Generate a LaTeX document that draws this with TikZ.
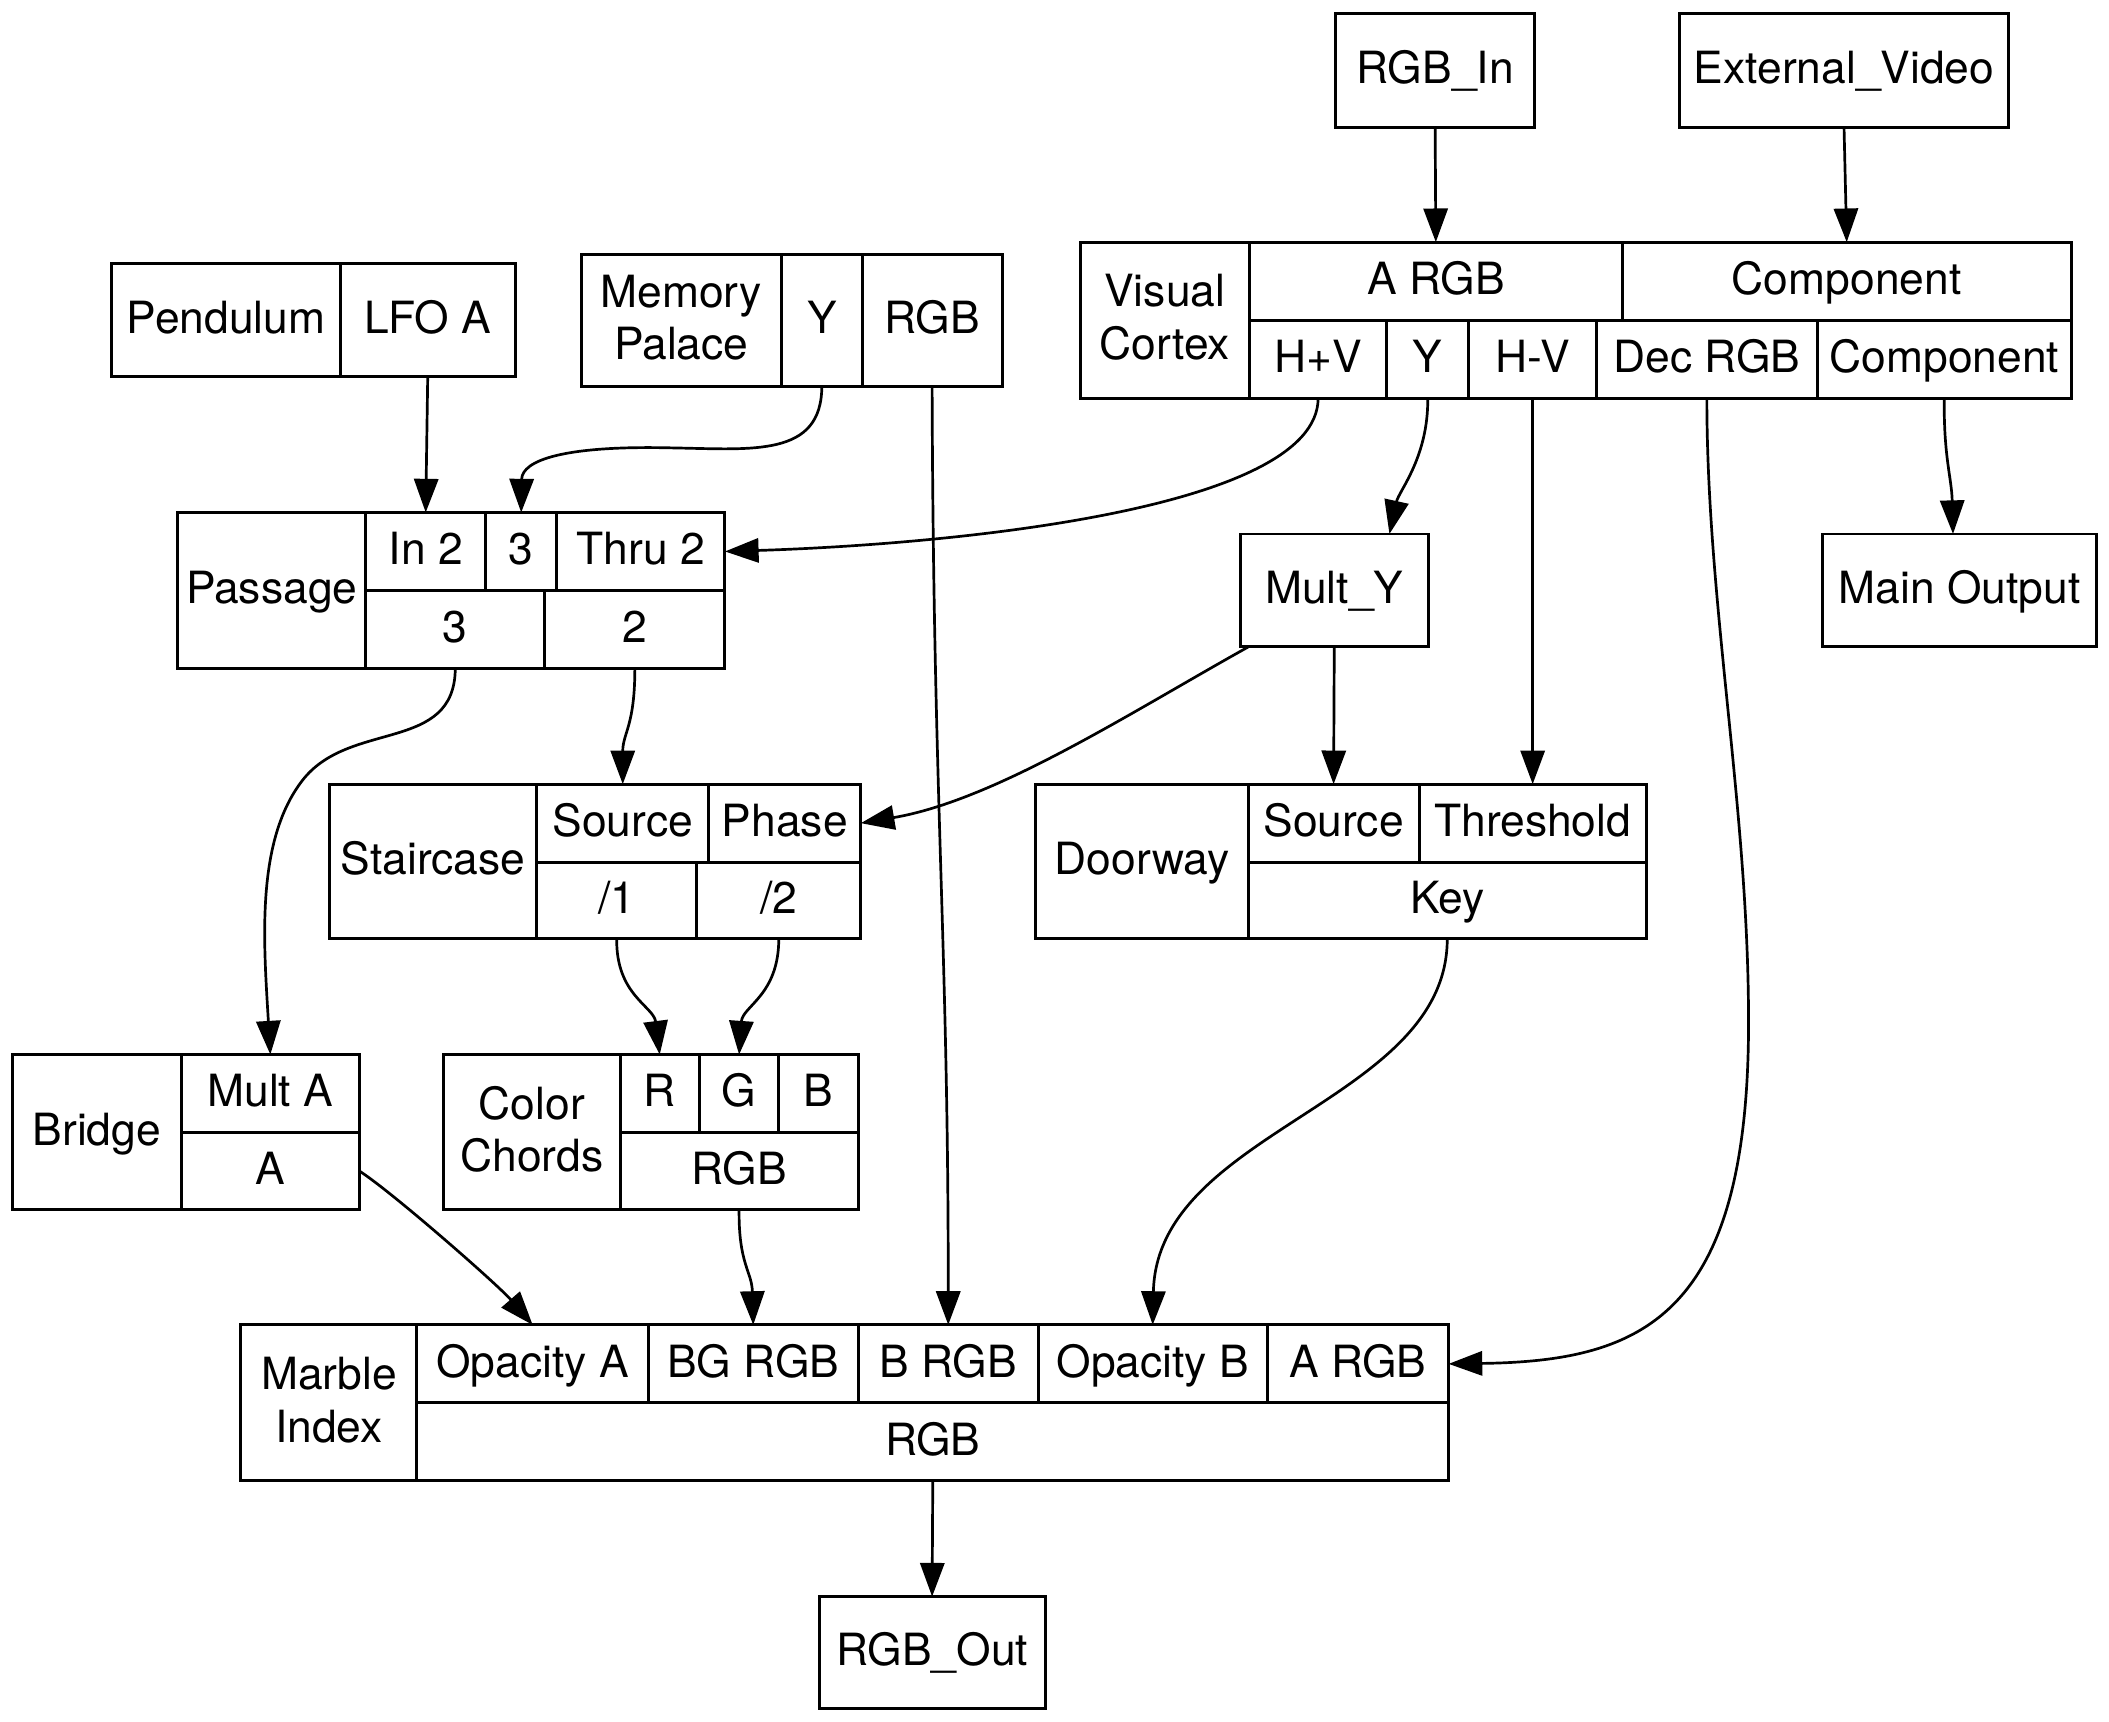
\documentclass[tikz,border=0pt]{standalone}
\usepackage{fontspec}
\setmainfont{TeX Gyre Heros}
\usetikzlibrary{arrows.meta,calc}
\tikzset{
  cellbox/.style={draw, line width=1.1pt, inner sep=0pt, outer sep=0pt,
    font=\fontsize{16.5}{19.5}\selectfont},
  cellone/.style={text height=9.8pt, text depth=0pt},
  celltwo/.style={},
  celltext/.style={inner sep=0pt, outer sep=0pt, align=center, yshift=1pt,
    font=\fontsize{16.5}{19.5}\selectfont},
  conn/.style={-{Triangle[length=12.5pt,width=9pt]}, line width=1pt}
}
\makeatletter
\def\rcell{\@ifnextchar[{\rcell@ii}{\rcell@i}}
\def\rcell@i#1#2#3#4#5#6{\node[cellbox,cellone,minimum width={(#4-(#2))*0.5pt},minimum height={(#5-(#3))*0.5pt}] (#1) at ({(#2+#4)/2},{(#3+#5)/2}) {#6};}
\def\rcell@ii[#1]#2#3#4#5#6#7{\node[cellbox,minimum width={(#5-(#3))*0.5pt},minimum height={(#6-(#4))*0.5pt}] (#2) at ({(#3+#5)/2},{(#4+#6)/2}) {};
  \node[celltext] (#2-t) at (#2) {#7};}
\makeatother
\begin{document}
\begin{tikzpicture}[x=0.5pt,y=-0.5pt]
\useasboundingbox (0,0) rectangle (1568,1280);
% RGB_In / External_Video
\rcell{rgbin}{993}{10}{1141}{95}{RGB\_In}
\rcell{extvid}{1249}{10}{1493}{95}{External\_Video}
% Visual Cortex
\rcell[celltwo]{vc}{803}{180}{929}{296}{Visual\\Cortex}
\rcell{vcargb}{929}{180}{1206}{238}{A RGB}
\rcell{vccomp}{1206}{180}{1540}{238}{Component}
\rcell{vchv}{929}{238}{1031}{296}{H+V}
\rcell{vcy}{1031}{238}{1092}{296}{Y}
\rcell{vchmv}{1092}{238}{1187}{296}{H-V}
\rcell{vcdec}{1187}{238}{1351}{296}{Dec RGB}
\rcell{vccompout}{1351}{238}{1540}{296}{Component}
% Pendulum
\rcell{pend}{83}{196}{253}{280}{Pendulum}
\rcell{pendlfo}{253}{196}{383}{280}{LFO A}
% Memory Palace
\rcell[celltwo]{mem}{432}{189}{581}{287}{Memory\\Palace}
\rcell{memy}{581}{189}{641}{287}{Y}
\rcell{memrgb}{641}{189}{745}{287}{RGB}
% Passage
\rcell{pass}{132}{381}{272}{497}{Passage}
\rcell{passin}{272}{381}{361}{439}{In 2}
\rcell{passthree}{361}{381}{414}{439}{3}
\rcell{passthru}{414}{381}{539}{439}{Thru 2}
\rcell{passoutthree}{272}{439}{405}{497}{3}
\rcell{passouttwo}{405}{439}{539}{497}{2}
% Mult_Y / Main Output
\rcell{multy}{922}{397}{1062}{481}{Mult\_Y}
\rcell{mainout}{1355}{397}{1559}{481}{Main Output}
% Staircase
\rcell{stair}{245}{583}{399}{698}{Staircase}
\rcell{stairsrc}{399}{583}{527}{641}{Source}
\rcell{stairph}{527}{583}{640}{641}{Phase}
\rcell{stairone}{399}{641}{518}{698}{/1}
\rcell{stairtwo}{518}{641}{640}{698}{/2}
% Doorway
\rcell{door}{770}{583}{928}{698}{Doorway}
\rcell{doorsrc}{928}{583}{1055}{641}{Source}
\rcell{doorth}{1055}{583}{1224}{641}{Threshold}
\rcell{doorkey}{928}{641}{1224}{698}{Key}
% Bridge
\rcell{bridge}{9}{784}{135}{899}{Bridge}
\rcell{bridgemult}{135}{784}{267}{842}{Mult A}
\rcell{bridgea}{135}{842}{267}{899}{A}
% Color Chords
\rcell[celltwo]{cc}{330}{784}{461}{899}{Color\\Chords}
\rcell{ccr}{461}{784}{520}{842}{R}
\rcell{ccg}{520}{784}{579}{842}{G}
\rcell{ccb}{579}{784}{638}{842}{B}
\rcell{ccrgb}{461}{842}{638}{899}{RGB}
% Marble Index
\rcell[celltwo]{mi}{179}{985}{310}{1101}{Marble\\Index}
\rcell{miopa}{310}{985}{482}{1043}{Opacity A}
\rcell{mibg}{482}{985}{638}{1043}{BG RGB}
\rcell{mib}{638}{985}{772}{1043}{B RGB}
\rcell{miopb}{772}{985}{942}{1043}{Opacity B}
\rcell{miargb}{942}{985}{1077}{1043}{A RGB}
\rcell{mirgb}{310}{1043}{1077}{1101}{RGB}
% RGB_Out
\rcell{rgbout}{609}{1187}{777}{1270}{RGB\_Out}
% connectors
\draw[conn] (rgbin.south) -- (vcargb.north);
\draw[conn] (extvid.south) -- (vccomp.north);
\draw[conn] (pendlfo.south) -- (passin.north);
\draw[conn] (memy.south) .. controls (611,340) and (560,334) .. (500,333) .. controls (420,331) and (388,342) .. (passthree.north);
\draw[conn] (memrgb.south) .. controls (694,600) and (705,700) .. (mib.north);
\draw[conn] (vchv.south) .. controls (980,380) and (700,405) .. (passthru.east);
\draw[conn] (vcy.south) .. controls (1062,340) and (1040,365) .. ($(multy.north)+(41,0)$);
\draw[conn] (vchmv.south) -- (doorth.north);
\draw[conn] (vcdec.south) .. controls (1269,450) and (1300,600) .. (1300,760) .. controls (1300,980) and (1220,1012) .. (miargb.east);
\draw[conn] (vccompout.south) .. controls (1445,340) and (1451,355) .. ($(mainout.north)+(-5,0)$);
\draw[conn] (passoutthree.south) .. controls (338,560) and (260,535) .. (225,580) .. controls (190,625) and (196,700) .. (bridgemult.north);
\draw[conn] (passouttwo.south) .. controls (472,540) and (463,545) .. (stairsrc.north);
\draw[conn] ($(multy.south)+(-64,0)$) .. controls (840,530) and (740,595) .. (stairph.east);
\draw[conn] (multy.south) -- (doorsrc.north);
\draw[conn] (stairone.south) .. controls (458,740) and (486,748) .. (ccr.north);
\draw[conn] (stairtwo.south) .. controls (579,740) and (552,748) .. (ccg.north);
\draw[conn] (doorkey.south) .. controls (1076,820) and (860,840) .. (miopb.north);
\draw[conn] (bridgea.east) .. controls (290,885) and (370,955) .. (miopa.north);
\draw[conn] (ccrgb.south) .. controls (549,940) and (559,945) .. (mibg.north);
\draw[conn] (mirgb.south) -- (rgbout.north);
\end{tikzpicture}
\end{document}
